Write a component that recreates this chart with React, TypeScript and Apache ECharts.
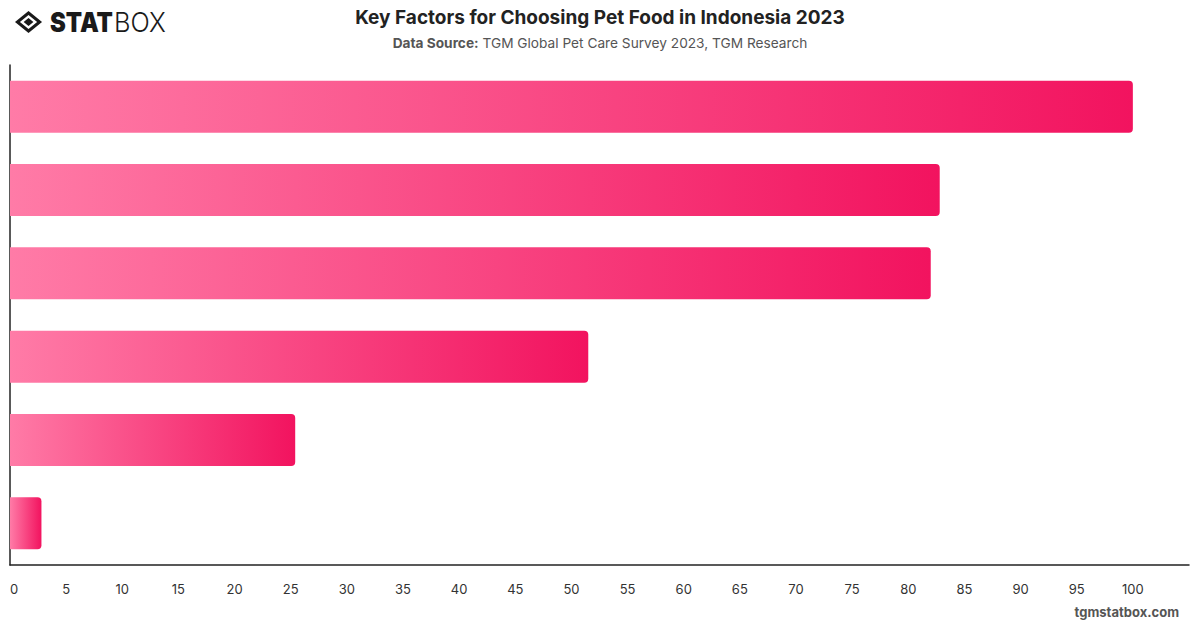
import React, { useEffect, useRef } from "react";
import * as echarts from "echarts";

// Survey share by factor, listed top to bottom
const factors = ["Factor 1", "Factor 2", "Factor 3", "Factor 4", "Factor 5", "Factor 6"];
const shares = [100, 82.8, 82.0, 51.5, 25.4, 2.8];
const tickStep = 5;
const axisMax = 105;

const TITLE = "Key Factors for Choosing Pet Food in Indonesia 2023";
const SOURCE_LABEL = "Data Source:";
const SOURCE_TEXT = " TGM Global Pet Care Survey 2023, TGM Research";

// Diamond emblem of the logo
const LOGO_D =
  "M13 0 L26 11 L13 22 L0 11 Z M13 4 L4.7 11 L13 18 L21.3 11 Z M13 7 L17.7 11 L13 15 L8.3 11 Z";

let logoRegistered = false;

export default function App() {
  const ref = useRef<HTMLDivElement>(null);

  useEffect(() => {
    if (!ref.current) return;
    if (!logoRegistered) {
      echarts.graphic.registerShape("logo", echarts.graphic.extendPath(LOGO_D, {}) as any);
      logoRegistered = true;
    }
    const chart = echarts.init(ref.current, null, { renderer: "svg" });
    const font = "Inter, 'Noto Sans', sans-serif";

    chart.setOption({
      animation: false,
      backgroundColor: "#ffffff",
      textStyle: { fontFamily: font },
      title: {
        text: TITLE,
        left: "center",
        top: 3,
        itemGap: 9,
        textStyle: { fontSize: 19, fontWeight: "bold", color: "#222222", fontFamily: font },
        subtext: `{b|${SOURCE_LABEL}}{r|${SOURCE_TEXT}}`,
        subtextStyle: {
          rich: {
            b: { fontSize: 13.7, fontWeight: "bold", color: "#555555", fontFamily: font },
            r: { fontSize: 13.7, color: "#555555", fontFamily: font },
          },
        },
      },
      grid: { left: 10, right: 11, top: 65, bottom: 63, containLabel: false },
      xAxis: {
        type: "value",
        min: 0,
        max: axisMax,
        interval: tickStep,
        splitLine: { show: false },
        axisTick: { show: false },
        axisLine: { show: true, lineStyle: { color: "#222222", width: 1.5 } },
        axisLabel: {
          color: "#333333",
          fontSize: 13,
          margin: 17,
          fontFamily: font,
          showMaxLabel: false,
          alignMinLabel: "left",
        },
      },
      yAxis: {
        type: "category",
        data: factors,
        inverse: true,
        axisTick: { show: false },
        axisLabel: { show: false },
        axisLine: { show: true, lineStyle: { color: "#222222", width: 1.5 } },
      },
      series: [
        {
          type: "bar",
          data: shares,
          barWidth: 52,
          itemStyle: {
            borderRadius: [0, 4, 4, 0],
            color: new echarts.graphic.LinearGradient(0, 0, 1, 0, [
              { offset: 0, color: "#ff7ba7" },
              { offset: 1, color: "#f2135f" },
            ]),
          },
        },
      ],
      graphic: [
        {
          type: "logo",
          x: 15,
          y: 11,
          scaleX: 1.04,
          scaleY: 1,
          style: { fill: "#1a1a1a" },
        },
        {
          type: "text",
          x: 50,
          y: 22,
          scaleX: 0.88,
          style: {
            text: "STAT",
            font: "900 27px Inter, sans-serif",
            fill: "#1a1a1a",
            textVerticalAlign: "middle",
          },
        },
        {
          type: "text",
          x: 114,
          y: 22,
          scaleX: 0.94,
          style: {
            text: "BOX",
            font: "300 27px Inter, sans-serif",
            fill: "#1a1a1a",
            textVerticalAlign: "middle",
          },
        },
        {
          type: "text",
          right: 21,
          top: 605,
          style: {
            text: "tgmstatbox.com",
            font: "bold 13px Inter, sans-serif",
            fill: "#555555",
          },
        },
      ],
    });

    return () => chart.dispose();
  }, []);

  return <div ref={ref} style={{ width: 1200, height: 628, position: "absolute", left: 0, top: 0 }} />;
}
